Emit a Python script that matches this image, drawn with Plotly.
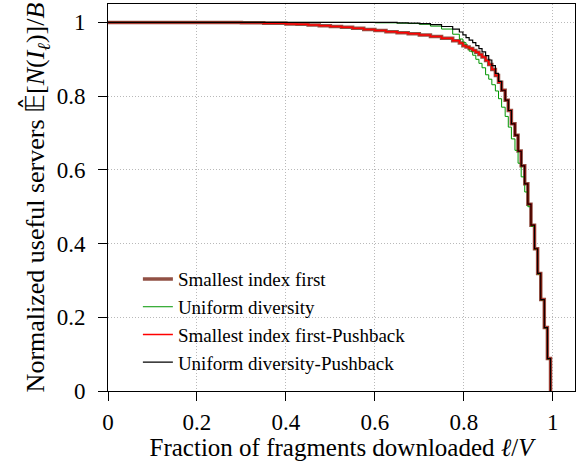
import plotly.graph_objects as go

# Fraction of fragments downloaded (x grid)
x_frac = [0.0, 0.1, 0.2, 0.3, 0.35, 0.4, 0.425, 0.45, 0.475, 0.5, 0.525, 0.55, 0.575, 0.6, 0.625,
          0.65, 0.675, 0.7, 0.725, 0.75, 0.775, 0.79,
          0.798, 0.805, 0.812, 0.820, 0.827, 0.834, 0.841, 0.849, 0.856, 0.863,
          0.871, 0.878, 0.885, 0.893, 0.900, 0.907, 0.915, 0.922, 0.929, 0.937,
          0.944, 0.951, 0.959, 0.966, 0.973, 0.981, 0.988, 0.995]

smallest_first = [1.000, 1.000, 1.000, 0.999, 0.998, 0.996, 0.995, 0.993, 0.991, 0.989, 0.987, 0.984, 0.981, 0.978, 0.975,
                  0.972, 0.969, 0.966, 0.962, 0.957, 0.950, 0.944,
                  0.937, 0.933, 0.929, 0.924, 0.919, 0.913, 0.906, 0.897, 0.886, 0.872,
                  0.856, 0.838, 0.816, 0.789, 0.761, 0.725, 0.694, 0.651, 0.611, 0.562,
                  0.507, 0.450, 0.386, 0.319, 0.248, 0.172, 0.088, 0.000]

uniform_div = [1.000, 1.000, 1.000, 1.000, 1.000, 1.000, 1.000, 1.000, 1.000, 1.000, 1.000, 1.000, 1.000, 0.999, 0.999,
               0.998, 0.997, 0.995, 0.990, 0.982, 0.968, 0.955,
               0.945, 0.934, 0.922, 0.911, 0.900, 0.889, 0.877, 0.858, 0.846, 0.831,
               0.814, 0.793, 0.770, 0.745, 0.716, 0.684, 0.653, 0.618, 0.581, 0.540,
               0.500, 0.447, 0.384, 0.317, 0.247, 0.171, 0.087, 0.000]

smallest_first_pb = [1.000, 1.000, 1.000, 0.999, 0.998, 0.996, 0.995, 0.993, 0.991, 0.989, 0.987, 0.984, 0.981, 0.978, 0.975,
                     0.972, 0.969, 0.966, 0.962, 0.957, 0.950, 0.944,
                     0.937, 0.933, 0.929, 0.924, 0.919, 0.913, 0.906, 0.897, 0.886, 0.872,
                     0.856, 0.838, 0.816, 0.789, 0.761, 0.725, 0.694, 0.651, 0.611, 0.562,
                     0.507, 0.450, 0.386, 0.319, 0.248, 0.172, 0.088, 0.000]

uniform_div_pb = [1.000, 1.000, 1.000, 1.000, 1.000, 1.000, 1.000, 1.000, 1.000, 1.000, 1.000, 1.000, 1.000, 1.000, 1.000,
                  0.999, 0.998, 0.997, 0.994, 0.989, 0.982, 0.974,
                  0.966, 0.959, 0.952, 0.945, 0.937, 0.929, 0.920, 0.910, 0.898, 0.883,
                  0.862, 0.840, 0.816, 0.789, 0.761, 0.725, 0.694, 0.651, 0.611, 0.562,
                  0.507, 0.450, 0.386, 0.319, 0.248, 0.172, 0.088, 0.000]

tick_vals = [0, 0.2, 0.4, 0.6, 0.8, 1]
tick_text = ["0", "0.2", "0.4", "0.6", "0.8", "1"]

FONT = "Liberation Serif, Times New Roman, serif"

fig = go.Figure()
fig.add_trace(go.Scatter(x=x_frac, y=smallest_first, mode="lines", line_shape="hv",
                         line=dict(color="rgb(145,80,68)", width=3.5), name="Smallest index first"))
fig.add_trace(go.Scatter(x=x_frac, y=uniform_div, mode="lines", line_shape="hv",
                         line=dict(color="rgb(0,150,0)", width=1), name="Uniform diversity"))
fig.add_trace(go.Scatter(x=x_frac, y=smallest_first_pb, mode="lines", line_shape="hv",
                         line=dict(color="rgb(255,0,0)", width=1.5), name="Smallest index first-Pushback"))
fig.add_trace(go.Scatter(x=x_frac, y=uniform_div_pb, mode="lines", line_shape="hv",
                         line=dict(color="black", width=1.2), name="Uniform diversity-Pushback"))

axis_common = dict(
    showline=True, linecolor="black", linewidth=1, mirror=True,
    ticks="outside", ticklen=9, tickcolor="black",
    showgrid=True, gridcolor="rgb(185,185,185)", griddash="1px,2px", gridwidth=1,
    zeroline=False, tickvals=tick_vals, ticktext=tick_text,
    tickfont=dict(family=FONT, size=23, color="black"),
)

fig.update_xaxes(range=[0, 1.05], ticklabelstandoff=1,
                 title=dict(text="Fraction of fragments downloaded <i>ℓ</i>/<i>V</i>",
                            font=dict(family=FONT, size=25, color="black"), standoff=4),
                 **axis_common)
fig.update_yaxes(range=[0, 1.05], ticklabelstandoff=8,
                 title=dict(text="Normalized useful servers 𝔼̂[<i>N</i>(<i>I</i><sub><i>ℓ</i></sub>)]/<i>B</i>",
                            font=dict(family=FONT, size=26, color="black"), standoff=4),
                 **axis_common)

fig.update_layout(
    width=579, height=461,
    margin=dict(l=108, r=4, t=4, b=70),
    paper_bgcolor="white", plot_bgcolor="white",
    font=dict(family=FONT, color="black"),
    legend=dict(x=0.064, y=0.338, xanchor="left", yanchor="top",
                bgcolor="rgba(0,0,0,0)", borderwidth=0,
                font=dict(family=FONT, size=19, color="black")),
)

fig.write_html("out.html")
